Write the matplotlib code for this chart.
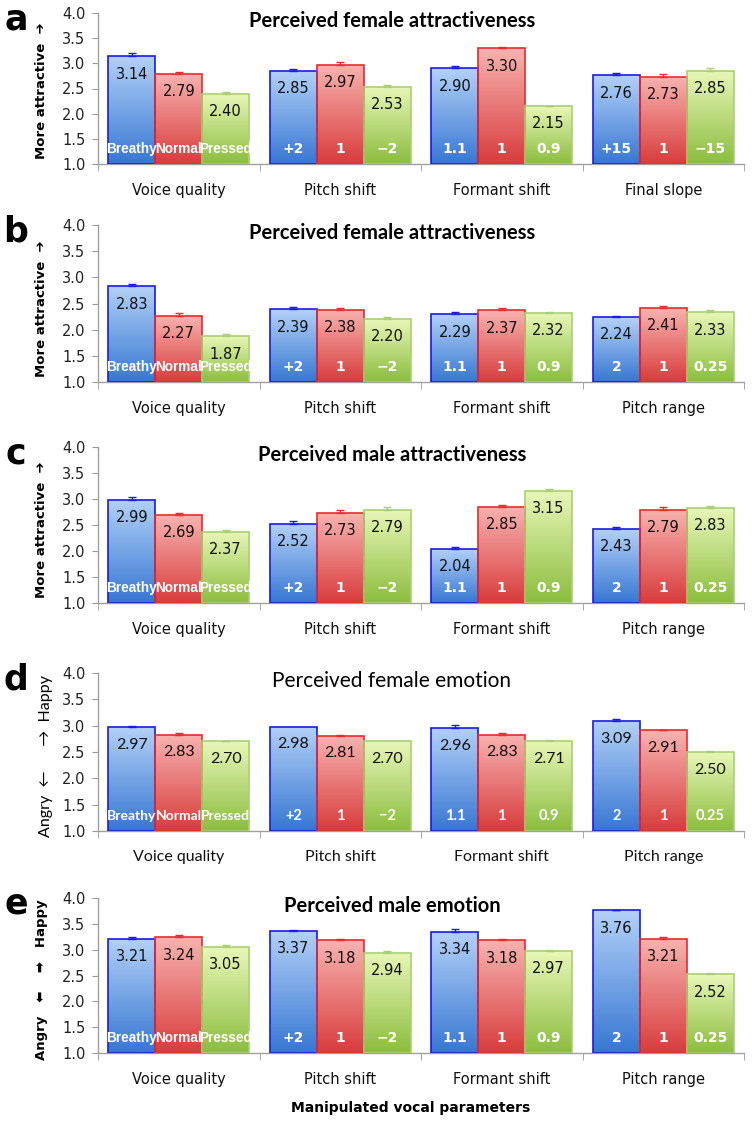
import matplotlib
matplotlib.use('Agg')
import matplotlib.pyplot as plt
import numpy as np
from matplotlib.colors import LinearSegmentedColormap

W, H = 752, 1121

letters = ['a', 'b', 'c', 'd', 'e']
titles = ['Perceived female attractiveness', 'Perceived female attractiveness',
          'Perceived male attractiveness', 'Perceived female emotion',
          'Perceived male emotion']
ylabels = ['More attractive  \u2794', 'More attractive  \u2794', 'More attractive  \u2794',
           'Angry  \u2190      \u2192  Happy', 'Angry   \u2b05    \u27a1   Happy']

groups_a = ['Voice quality', 'Pitch shift', 'Formant shift', 'Final slope']
groups_b = ['Voice quality', 'Pitch shift', 'Formant shift', 'Pitch range']
levels_a = [['Breathy', 'Normal', 'Pressed'], ['+2', '1', '\u22122'],
            ['1.1', '1', '0.9'], ['+15', '1', '\u221215']]
levels_b = [['Breathy', 'Normal', 'Pressed'], ['+2', '1', '\u22122'],
            ['1.1', '1', '0.9'], ['2', '1', '0.25']]

vals_a = [[3.14, 2.79, 2.40], [2.85, 2.97, 2.53], [2.90, 3.30, 2.15], [2.76, 2.73, 2.85]]
vals_b = [[2.83, 2.27, 1.87], [2.39, 2.38, 2.20], [2.29, 2.37, 2.32], [2.24, 2.41, 2.33]]
vals_c = [[2.99, 2.69, 2.37], [2.52, 2.73, 2.79], [2.04, 2.85, 3.15], [2.43, 2.79, 2.83]]
vals_d = [[2.97, 2.83, 2.70], [2.98, 2.81, 2.70], [2.96, 2.83, 2.71], [3.09, 2.91, 2.50]]
vals_e = [[3.21, 3.24, 3.05], [3.37, 3.18, 2.94], [3.34, 3.18, 2.97], [3.76, 3.21, 2.52]]

err_a = [[0.06, 0.04, 0.04], [0.04, 0.05, 0.04], [0.05, 0.03, 0.01], [0.05, 0.05, 0.05]]
err_b = [[0.04, 0.04, 0.04], [0.04, 0.04, 0.04], [0.05, 0.04, 0.02], [0.03, 0.05, 0.04]]
err_c = [[0.04, 0.04, 0.04], [0.05, 0.05, 0.06], [0.03, 0.03, 0.04], [0.03, 0.06, 0.03]]
err_d = [[0.03, 0.03, 0.01], [0.00, 0.02, 0.00], [0.05, 0.03, 0.01], [0.04, 0.01, 0.01]]
err_e = [[0.04, 0.04, 0.04], [0.02, 0.03, 0.03], [0.06, 0.03, 0.03], [0.01, 0.03, 0.03]]

panels = [
    (vals_a, err_a, groups_a, levels_a),
    (vals_b, err_b, groups_b, levels_b),
    (vals_c, err_c, groups_b, levels_b),
    (vals_d, err_d, groups_b, levels_b),
    (vals_e, err_e, groups_b, levels_b),
]

# pixel layout of each axes (top = 4.0, bottom = 1.0)
ax_tops = [13, 225, 447, 673, 898]
ax_bots = [164, 382, 603, 831, 1053]
ax_left, ax_right = 98, 744

# top colour, bottom colour, edge colour per series
top_cols = ['#b3d1f8', '#f8b3b0', '#e8f7b8']
bot_cols = ['#3777d2', '#d83c3c', '#8bbd3e']
edge_cols = ['#1a1ae6', '#e82b2b', '#a9cf72']

fig = plt.figure(figsize=(W / 100, H / 100), dpi=100)
fig.patch.set_facecolor('white')

bw = 0.29
grad = np.linspace(0, 1, 256).reshape(-1, 1)

for p, (vals, errs, groups, levels) in enumerate(panels):
    calibri = (p == 3)
    fam = ['Lato', 'DejaVu Sans'] if calibri else ['DejaVu Sans']
    top, bot = ax_tops[p], ax_bots[p]
    ax = fig.add_axes([ax_left / W, 1 - bot / H, (ax_right - ax_left) / W, (bot - top) / H])

    for g in range(4):
        for j in range(3):
            x = g + (j - 1) * bw
            h = vals[g][j]
            bar = ax.bar(x, h - 1, bottom=1, width=bw, facecolor='none',
                         edgecolor=edge_cols[j], linewidth=1.2, zorder=3)[0]
            cmap = LinearSegmentedColormap.from_list('g', [bot_cols[j], top_cols[j]])
            im = ax.imshow(grad, extent=[x - bw / 2, x + bw / 2, 1, h], origin='lower',
                           aspect='auto', cmap=cmap, zorder=2, interpolation='bicubic')
            im.set_clip_path(bar)
            if errs[g][j] > 0:
                ax.errorbar(x, h, yerr=[[0], [errs[g][j]]], fmt='none',
                            ecolor=edge_cols[j], elinewidth=1, capsize=2.8, zorder=4)
            ax.annotate('%.2f' % h, (x, h), xytext=(0, -12.8), textcoords='offset points',
                        ha='center', va='center', fontsize=11.5 if calibri else 10.5,
                        family=fam, color='#111111', zorder=5)
            lab = levels[g][j]
            if g == 0:
                ax.annotate(lab, (x, 1), xytext=(0, 11 if calibri else 10.5),
                            textcoords='offset points', ha='center', va='center',
                            fontsize=10 if calibri else 9.8, fontweight='bold',
                            family=['Lato', 'Liberation Sans'] if calibri else ['Liberation Sans'],
                            color='white', zorder=5)
            else:
                ax.annotate(lab, (x, 1), xytext=(0, 11 if calibri else 10.5),
                            textcoords='offset points', ha='center', va='center',
                            fontsize=10.5 if calibri else 10, fontweight='bold',
                            family=fam, color='white', zorder=5)

    ax.set_xlim(-0.5, 3.5)
    ax.set_ylim(1, 4)
    ax.set_yticks([1.0, 1.5, 2.0, 2.5, 3.0, 3.5, 4.0])
    ax.set_yticklabels(['%.1f' % t for t in ax.get_yticks()], fontsize=10.5, color='#222222')
    ax.set_xticks(range(4))
    ax.set_xticklabels(groups, fontsize=11.5 if calibri else 10.5, family=fam, color='#111111')
    ax.set_xticks([-0.5, 0.5, 1.5, 2.5, 3.5], minor=True)
    ax.tick_params(axis='x', which='major', length=0, pad=14)
    ax.tick_params(axis='x', which='minor', length=5, color='#999999', direction='out')
    ax.tick_params(axis='y', length=4, color='#999999', pad=5)
    for s in ['top', 'right']:
        ax.spines[s].set_visible(False)
    for s in ['left', 'bottom']:
        ax.spines[s].set_color('#a0a0a0')
        ax.spines[s].set_linewidth(1)

    if calibri:
        ax.text(0.455, 0.95, titles[p], transform=ax.transAxes, ha='center', va='center',
                fontsize=15, family=fam)
        fig.text(46 / W, 1 - (bot - 75) / H, ylabels[p], rotation=90, ha='center',
                 va='center', fontsize=11.5, family=fam)
    else:
        ax.text(0.455, 0.95, titles[p], transform=ax.transAxes, ha='center', va='center',
                fontsize=14.5, fontweight='bold', family=['Lato', 'DejaVu Sans'])
        fig.text(42 / W, 1 - (bot - 73) / H, ylabels[p], rotation=90, ha='center',
                 va='center', fontsize=9.5, fontweight='bold')

    fig.text(16 / W, 1 - (top + 6) / H, letters[p], ha='center', va='center',
             fontsize=25, fontweight='heavy')

fig.text(411 / W, 1 - 1108 / H, 'Manipulated vocal parameters', ha='center', va='center',
         fontsize=10, fontweight='bold')

fig.savefig('out.png', dpi=100)
